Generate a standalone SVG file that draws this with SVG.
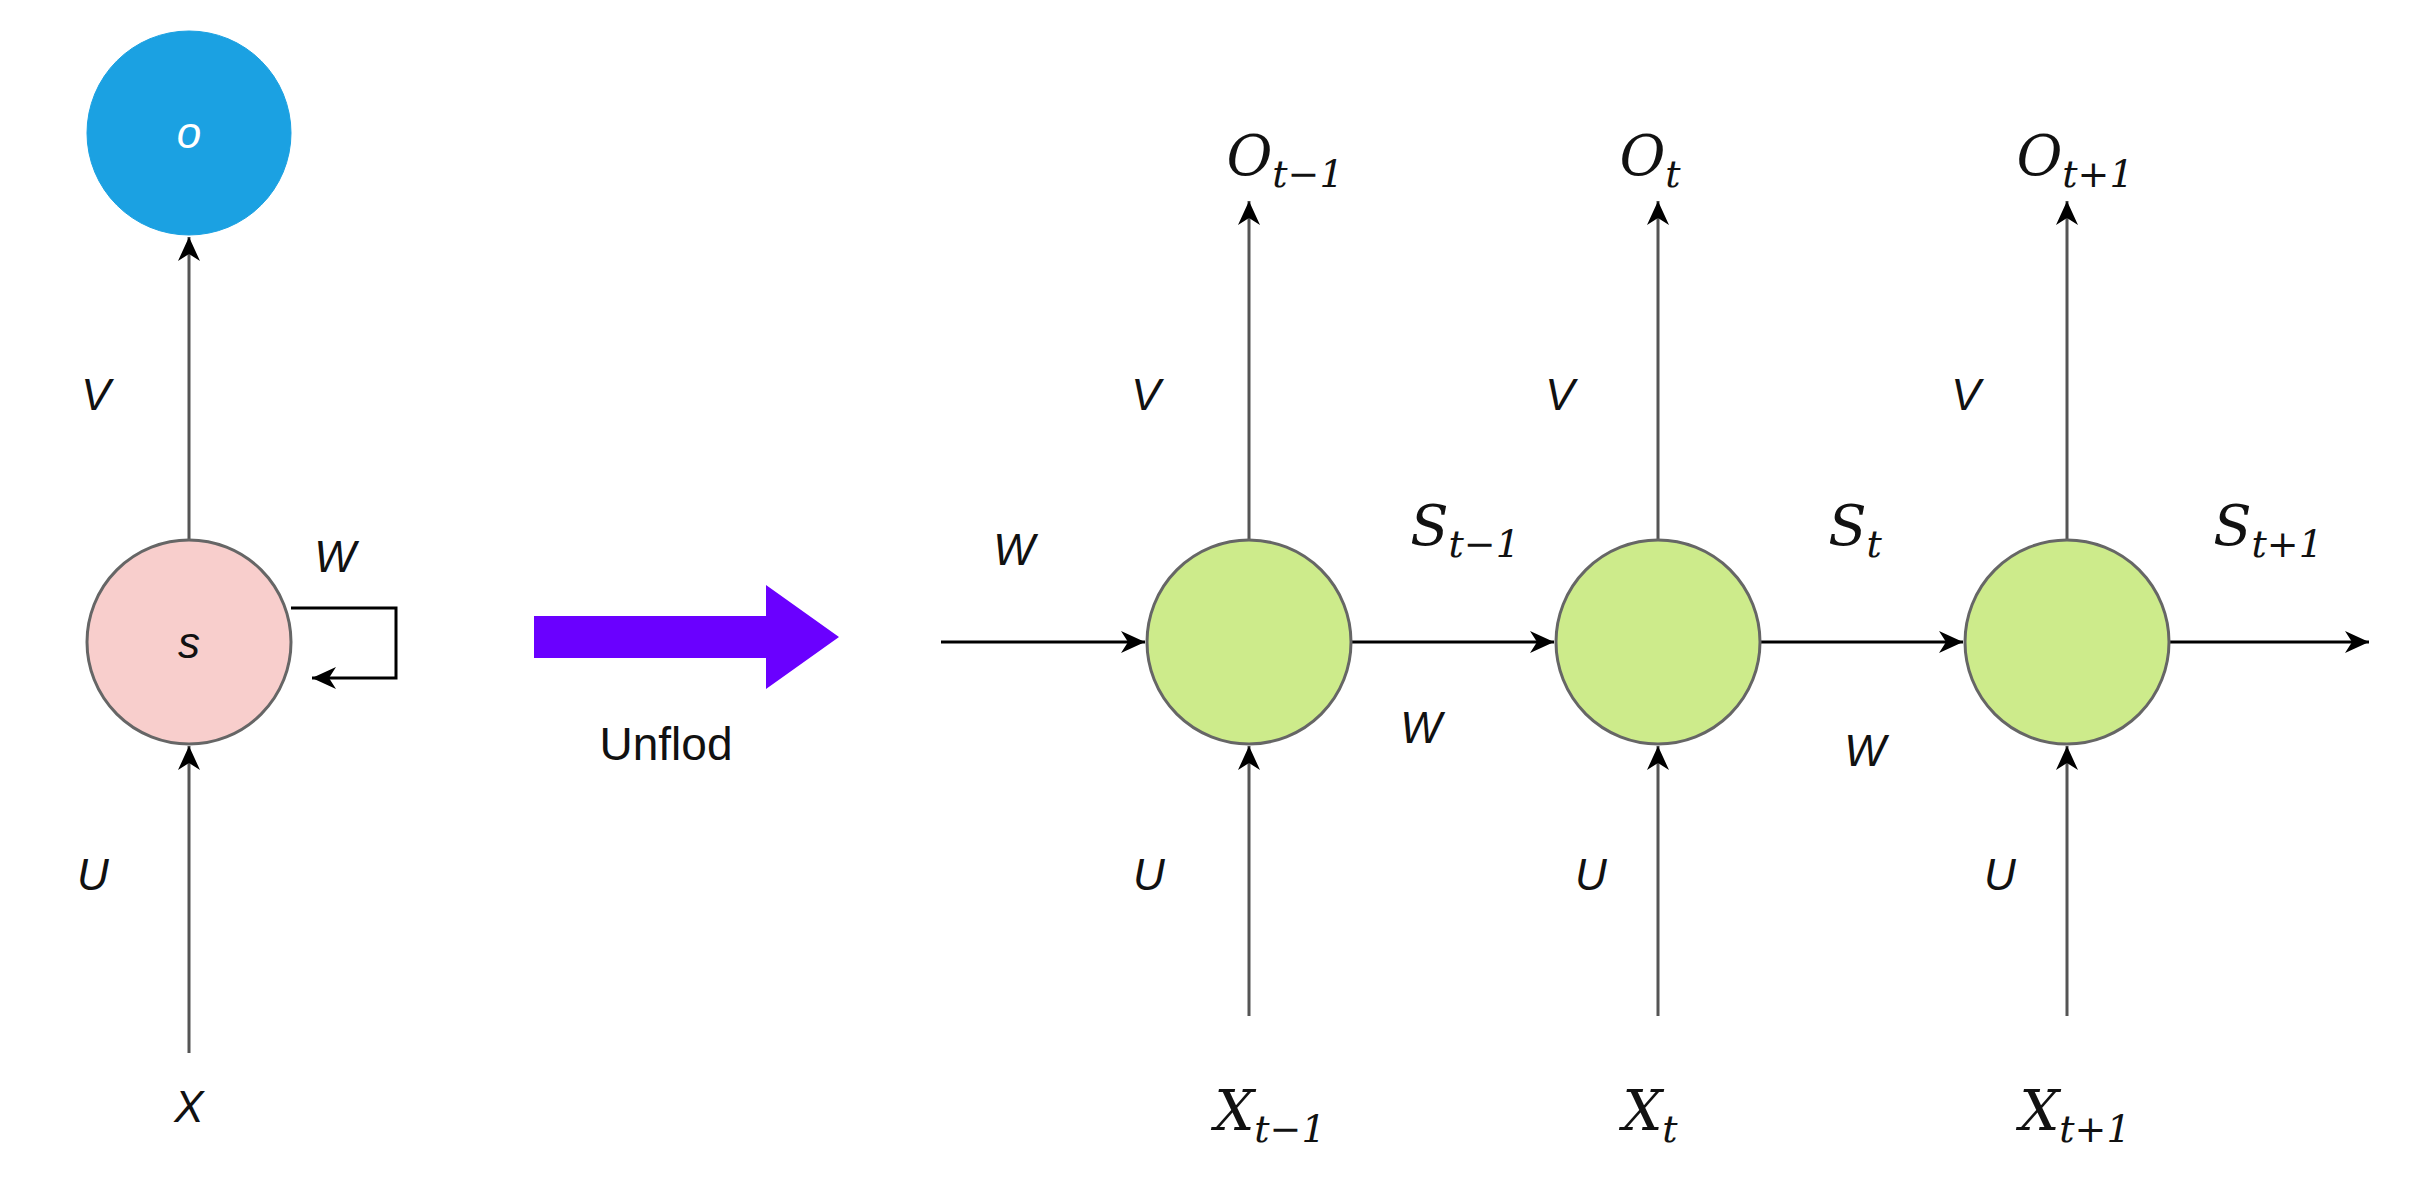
<svg xmlns="http://www.w3.org/2000/svg" width="2427" height="1200" viewBox="0 0 2427 1200">
<defs>
<marker id="ah" markerWidth="10" markerHeight="10" refX="9" refY="5" orient="auto" markerUnits="userSpaceOnUse" viewBox="0 0 10 10"><path d="M0,0 L10,5 L0,10 L3,5 Z" fill="#000"/></marker>
<marker id="ahb" markerWidth="26" markerHeight="26" refX="24" refY="13" orient="auto" markerUnits="userSpaceOnUse" viewBox="0 0 26 26"><path d="M0,2 L24,13 L0,24 L7,13 Z" fill="#000"/></marker>
<style>
.ln{stroke:#000;stroke-width:3;fill:none}
.gl{stroke:#555;stroke-width:3;fill:none}
.h{font-family:"Liberation Sans",Arial,sans-serif;font-style:italic;font-size:44px;fill:#111;text-anchor:middle}
.m{font-family:"DejaVu Serif","Liberation Serif",serif;font-style:italic;font-size:56px;fill:#111;text-anchor:middle}
.sub{font-size:38px}
.node{stroke:#666;stroke-width:3}
</style>
</defs>
<rect width="2427" height="1200" fill="#fff"/>
<g id="connectors">
<line class="gl" x1="189" y1="540" x2="189" y2="237" marker-end="url(#ahb)"/>
<line class="gl" x1="189" y1="1053" x2="189" y2="746" marker-end="url(#ahb)"/>
<polyline class="ln" points="291,608 396,608 396,678 312,678" marker-end="url(#ahb)"/>
<polygon points="534,616 766,616 766,585 839,637 766,689 766,658 534,658" fill="#6a00ff"/>
<line class="ln" x1="941" y1="642" x2="1145" y2="642" marker-end="url(#ahb)"/>
<line class="ln" x1="1351" y1="642" x2="1554" y2="642" marker-end="url(#ahb)"/>
<line class="ln" x1="1760" y1="642" x2="1963" y2="642" marker-end="url(#ahb)"/>
<line class="ln" x1="2169" y1="642" x2="2369" y2="642" marker-end="url(#ahb)"/>
<line class="gl" x1="1249" y1="540" x2="1249" y2="201" marker-end="url(#ahb)"/>
<line class="gl" x1="1658" y1="540" x2="1658" y2="201" marker-end="url(#ahb)"/>
<line class="gl" x1="2067" y1="540" x2="2067" y2="201" marker-end="url(#ahb)"/>
<line class="gl" x1="1249" y1="1016" x2="1249" y2="746" marker-end="url(#ahb)"/>
<line class="gl" x1="1658" y1="1016" x2="1658" y2="746" marker-end="url(#ahb)"/>
<line class="gl" x1="2067" y1="1016" x2="2067" y2="746" marker-end="url(#ahb)"/>
</g>
<g id="node-o"><circle cx="189" cy="133" r="102" fill="#1ba1e2" stroke="#1ba1e2"/><text x="189" y="148" class="h" fill="#fff" style="fill:#fff">o</text></g>
<g id="node-s"><circle class="node" cx="189" cy="642" r="102" fill="#f8cecc"/><text x="189" y="658" class="h">s</text></g>
<g id="node-s1"><circle class="node" cx="1249" cy="642" r="102" fill="#cdeb8b"/></g>
<g id="node-s2"><circle class="node" cx="1658" cy="642" r="102" fill="#cdeb8b"/></g>
<g id="node-s3"><circle class="node" cx="2067" cy="642" r="102" fill="#cdeb8b"/></g>
<g id="labels">
<text x="96" y="410" class="h">V</text>
<text x="335" y="572" class="h">W</text>
<text x="93" y="890" class="h">U</text>
<text x="189" y="1122" class="h">X</text>
<text x="666" y="760" font-family="Liberation Sans,Arial,sans-serif" font-size="46" fill="#111" text-anchor="middle">Unflod</text>
<text x="1146" y="410" class="h">V</text>
<text x="1560" y="410" class="h">V</text>
<text x="1966" y="410" class="h">V</text>
<text x="1014" y="565" class="h">W</text>
<text x="1421" y="743" class="h">W</text>
<text x="1865" y="766" class="h">W</text>
<text x="1149" y="890" class="h">U</text>
<text x="1591" y="890" class="h">U</text>
<text x="2000" y="890" class="h">U</text>
<text x="1285" y="175" class="m">O<tspan class="sub" dy="12">t−1</tspan></text>
<text x="1650" y="175" class="m">O<tspan class="sub" dy="12">t</tspan></text>
<text x="2075" y="175" class="m">O<tspan class="sub" dy="12">t+1</tspan></text>
<text x="1465" y="545" class="m">S<tspan class="sub" dy="12">t−1</tspan></text>
<text x="1855" y="545" class="m">S<tspan class="sub" dy="12">t</tspan></text>
<text x="2268" y="545" class="m">S<tspan class="sub" dy="12">t+1</tspan></text>
<text x="1270" y="1130" class="m">X<tspan class="sub" dy="12">t−1</tspan></text>
<text x="1650" y="1130" class="m">X<tspan class="sub" dy="12">t</tspan></text>
<text x="2075" y="1130" class="m">X<tspan class="sub" dy="12">t+1</tspan></text>
</g>
</svg>
